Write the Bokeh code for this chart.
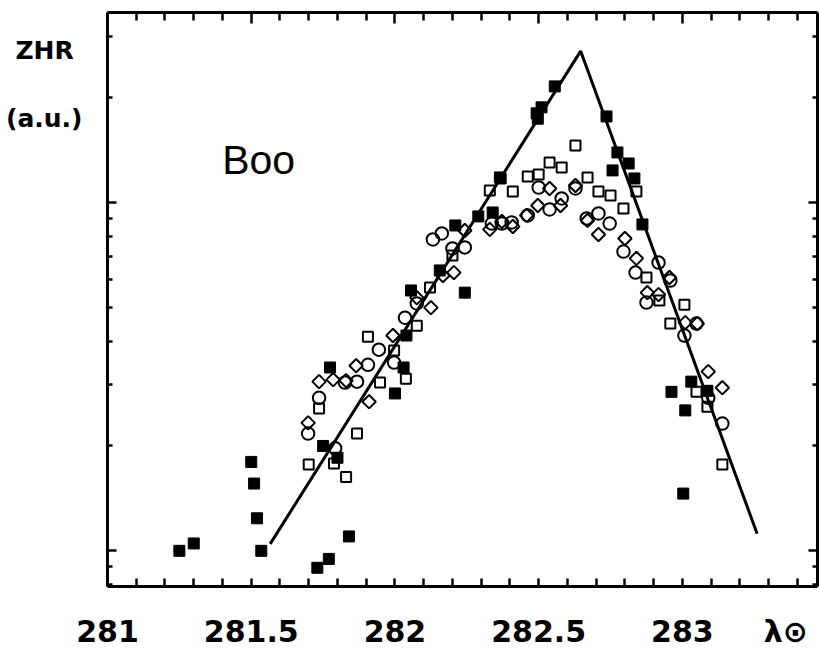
from bokeh.plotting import figure
from bokeh.models import Range1d, FixedTicker, LinearAxis, LogAxis, Label
from bokeh.embed import file_html
from bokeh.resources import INLINE
import numpy as np

# solar longitude (deg) and ZHR (arbitrary units, log scale)
filled_sq_x = [281.25, 281.30, 281.50, 281.51, 281.52, 281.535, 281.73, 281.77, 281.84,
               281.75, 281.774, 281.80, 282.00, 282.03, 282.04, 282.056, 282.156, 282.21,
               282.243, 282.29, 282.34, 282.365, 282.493, 282.497, 282.51, 282.556, 282.736,
               282.774, 282.757, 282.813, 282.833, 282.861, 282.962, 283.031, 283.01, 283.087,
               283.003]
filled_sq_y = [1.00, 1.05, 1.80, 1.56, 1.24, 1.00, 0.894, 0.948, 1.10,
               2.00, 3.36, 1.85, 2.83, 3.36, 4.15, 5.59, 6.38, 8.59,
               5.51, 9.12, 9.36, 11.80, 18.02, 17.4, 18.75, 21.54, 17.66,
               13.92, 12.36, 12.94, 11.72, 8.65, 2.86, 3.06, 2.53, 2.88,
               1.46]

open_sq_x = [281.70, 281.736, 281.788, 281.83, 281.868, 281.906, 281.948, 281.997, 282.038,
             282.076, 282.122, 282.20, 282.33, 282.368, 282.41, 282.462, 282.50, 282.538,
             282.58, 282.628, 282.67, 282.708, 282.75, 282.795, 282.84, 282.875, 282.92,
             282.958, 283.007, 283.049, 283.087, 283.139]
open_sq_y = [1.77, 2.56, 1.78, 1.63, 2.17, 4.12, 3.04, 3.76, 3.12,
             4.43, 5.70, 7.04, 10.83, 11.72, 10.75, 11.88, 12.04, 13.03,
             12.61, 14.58, 11.80, 10.75, 10.47, 9.61, 10.75, 6.09, 5.23,
             4.49, 5.09, 2.86, 2.59, 1.77]

circle_x = [281.698, 281.736, 281.792, 281.826, 281.868, 281.906, 281.944, 281.997, 282.035,
            282.076, 282.132, 282.163, 282.20, 282.243, 282.337, 282.372, 282.406, 282.462,
            282.50, 282.538, 282.58, 282.628, 282.667, 282.708, 282.747, 282.795, 282.837,
            282.875, 282.917, 282.958, 283.007, 283.049, 283.09, 283.139]
circle_y = [2.17, 2.75, 1.97, 3.04, 3.06, 3.42, 3.78, 3.47, 4.67,
            5.13, 7.83, 8.15, 7.38, 7.43, 8.70, 8.70, 8.76, 9.18,
            11.04, 9.55, 10.27, 10.97, 9.00, 9.30, 8.70, 7.23, 6.29,
            5.16, 6.72, 5.97, 4.15, 4.49, 2.75, 2.32]

diamond_x = [281.698, 281.736, 281.785, 281.83, 281.865, 281.91, 281.993, 282.076, 282.125,
             282.167, 282.205, 282.243, 282.33, 282.372, 282.41, 282.458, 282.497, 282.538,
             282.576, 282.628, 282.67, 282.708, 282.80, 282.84, 282.878, 282.917, 282.955,
             283.01, 283.052, 283.09, 283.139]
diamond_y = [2.33, 3.06, 3.10, 3.08, 3.40, 2.68, 4.15, 5.33, 4.99,
             6.17, 6.29, 8.31, 8.37, 8.82, 8.53, 9.18, 9.80, 10.97,
             9.80, 11.19, 8.88, 8.09, 7.88, 6.91, 5.51, 5.44, 6.09,
             4.52, 4.49, 3.27, 2.94]

fit_x = [281.566, 282.646, 283.26]
fit_y = [1.047, 27.2, 1.119]

x_major = [281, 281.5, 282, 282.5, 283]
x_labels = ["281", "281.5", "282", "282.5", "283"]
x_minor = [281.1, 281.2, 281.3, 281.4, 281.6, 281.7, 281.8, 281.9, 282.1, 282.2, 282.3,
           282.4, 282.6, 282.7, 282.8, 282.9, 283.1, 283.2, 283.3, 283.4]
x_name_pos = 283.36
x_name = "λ⊙"
y_major = [1, 10]
y_minor = [0.8, 0.9, 2, 3, 4, 5, 6, 7, 8, 9, 20, 30]
y_name_pos = [27.35, 17.43]
y_name = ["ZHR\u00a0", "(a.u.)"]

p = figure(width=819, height=651, x_range=Range1d(281, 283.47), y_range=Range1d(0.79, 35.1),
           y_axis_type="log", output_backend="svg", toolbar_location=None,
           min_border_left=107, min_border_right=2, min_border_top=12, min_border_bottom=65)
p.grid.visible = False
p.outline_line_color = None
p.background_fill_color = "white"
p.border_fill_color = "white"

FONT = "DejaVu Sans"

def base_axis(ax):
    ax.axis_line_width = 3
    ax.axis_line_color = "black"
    ax.major_tick_out = 0
    ax.minor_tick_out = 0
    ax.major_tick_line_width = 2.5
    ax.minor_tick_line_width = 2.5

def no_labels(ax, ticks):
    ax.major_label_overrides = {t: "" for t in ticks}
    ax.major_label_text_font_size = "0px"
    ax.major_label_standoff = 0

# bottom axis: numbers plus the coordinate name at the right end
bx = p.xaxis[0]
base_axis(bx)
bx.ticker = FixedTicker(ticks=x_major + [x_name_pos], minor_ticks=x_major + x_minor)
bx.major_tick_line_color = None
bx.minor_tick_in = 8
ov = {t: l for t, l in zip(x_major, x_labels)}
ov[x_name_pos] = x_name
bx.major_label_overrides = ov
bx.major_label_text_font = FONT
bx.major_label_text_font_style = "bold"
bx.major_label_text_font_size = "30px"
bx.major_label_text_color = "black"
bx.major_label_standoff = 27

# top axis
top = LinearAxis()
base_axis(top)
top.ticker = FixedTicker(ticks=x_major, minor_ticks=x_minor)
top.major_tick_in = 11
top.minor_tick_in = 8
no_labels(top, x_major)
p.add_layout(top, "above")

# left and right axes
base_axis(p.yaxis[0])
right = LogAxis()
base_axis(right)
p.add_layout(right, "right")
for ax in (p.yaxis[0], right):
    ax.ticker = FixedTicker(ticks=y_major, minor_ticks=y_minor)
    ax.major_tick_in = 9
    ax.minor_tick_in = 5
    no_labels(ax, y_major)

# quantity name on the left, as labels of an extra bare axis
name_ax = LogAxis()
name_ax.ticker = FixedTicker(ticks=y_name_pos)
name_ax.axis_line_color = None
name_ax.major_tick_line_color = None
name_ax.minor_tick_line_color = None
name_ax.major_tick_out = 0
name_ax.major_tick_in = 0
name_ax.major_label_overrides = {t: l for t, l in zip(y_name_pos, y_name)}
name_ax.major_label_text_font = FONT
name_ax.major_label_text_font_style = "bold"
name_ax.major_label_text_font_size = "25px"
name_ax.major_label_text_color = "black"
name_ax.major_label_standoff = 25
p.add_layout(name_ax, "left")

# fitted profile
p.line(fit_x, fit_y, line_color="black", line_width=3)

# data series
p.scatter(circle_x, circle_y, marker="circle", size=12.5, fill_color=None,
          line_color="black", line_width=2)
p.scatter(diamond_x, diamond_y, marker="square", angle=np.pi / 4, size=9.5, fill_color=None,
          line_color="black", line_width=2)
p.scatter(open_sq_x, open_sq_y, marker="square", size=10, fill_color=None,
          line_color="black", line_width=2)
p.scatter(filled_sq_x, filled_sq_y, marker="square", size=11, fill_color="black",
          line_color="black", line_width=1)

p.add_layout(Label(x=281.399, y=13.2, text="Boo", text_font="Liberation Sans",
                   text_font_size="41px", text_color="black", text_baseline="alphabetic"))

open("out.html", "w").write(file_html(p, INLINE))
